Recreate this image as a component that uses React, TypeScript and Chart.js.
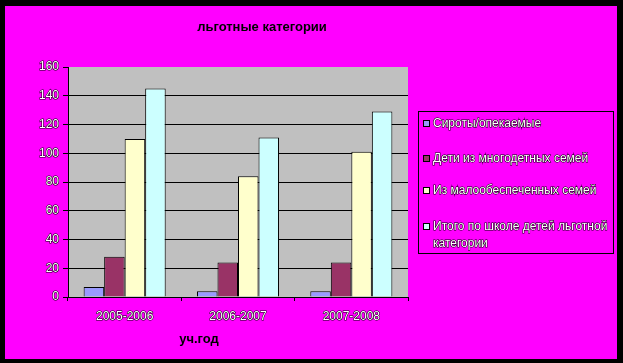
import React, { useEffect, useRef } from "react";
import { Chart, registerables } from "chart.js";

Chart.register(...registerables);

const categories = ["2005-2006", "2006-2007", "2007-2008"];
const seriesNames = [
  "Сироты/опекаемые",
  "Дети из многодетных семей",
  "Из малообеспеченных семей",
  "Итого по школе детей льготной категории",
];
const siroty = [7, 4, 4];
const mnogodetnye = [28, 24, 24];
const maloobesp = [110, 84, 101];
const itogo = [145, 111, 129];
const seriesColors = ["#9999FF", "#993366", "#FFFFCC", "#CCFFFF"];
const chartTitle = "льготные категории";
const xTitle = "уч.год";

const FONT = 'Arial, "Liberation Sans", sans-serif';

const decor = {
  id: "decor",
  beforeDraw(chart: any) {
    const { ctx, chartArea } = chart;
    ctx.save();
    ctx.fillStyle = "#000";
    ctx.fillRect(0, 0, chart.width, chart.height);
    ctx.fillStyle = "#FF00FF";
    ctx.fillRect(5, 6, 612, 353);
    ctx.fillStyle = "#C0C0C0";
    ctx.fillRect(chartArea.left, chartArea.top, chartArea.right - chartArea.left, chartArea.bottom - chartArea.top);
    ctx.restore();
  },
  afterDraw(chart: any) {
    const { ctx } = chart;
    ctx.save();
    // title
    ctx.fillStyle = "#000";
    ctx.font = `bold 13px ${FONT}`;
    ctx.textAlign = "center";
    ctx.textBaseline = "middle";
    ctx.fillText(chartTitle, 262, 27);
    ctx.fillText(xTitle, 199, 339);
    // legend
    ctx.strokeStyle = "#000";
    ctx.lineWidth = 1;
    ctx.strokeRect(418.5, 111.5, 195, 142);
    const rows: { y: number; lines: string[] }[] = [
      { y: 124, lines: [seriesNames[0]] },
      { y: 159, lines: [seriesNames[1]] },
      { y: 191, lines: [seriesNames[2]] },
      { y: 227, lines: ["Итого по школе детей льготной", "категории"] },
    ];
    ctx.font = `12px ${FONT}`;
    ctx.textAlign = "left";
    rows.forEach((r, i) => {
      ctx.fillStyle = seriesColors[i];
      ctx.fillRect(423, r.y - 3, 6, 6);
      ctx.strokeStyle = "#000";
      ctx.strokeRect(423.5, r.y - 3.5, 6, 6);
      r.lines.forEach((t, j) => {
        const yy = r.y + j * 17;
        ctx.lineWidth = 1;
        ctx.strokeStyle = "#000";
        ctx.strokeText(t, 433, yy);
        ctx.fillStyle = "#fff";
        ctx.fillText(t, 433, yy);
      });
    });
    ctx.restore();
  },
};

export default function App() {
  const ref = useRef<HTMLCanvasElement>(null);
  useEffect(() => {
    if (!ref.current) return;
    const values = [siroty, mnogodetnye, maloobesp, itogo];
    const chart = new Chart(ref.current, {
      type: "bar",
      data: {
        labels: categories,
        datasets: values.map((v, i) => ({
          label: seriesNames[i],
          data: v,
          backgroundColor: seriesColors[i],
          borderColor: "#000",
          borderWidth: 1,
          categoryPercentage: 0.724,
          barPercentage: 1,
        })),
      },
      options: {
        responsive: false,
        animation: false,
        events: [],
        layout: { padding: { top: 67, right: 215, left: 0, bottom: 0 } },
        plugins: { legend: { display: false }, title: { display: false }, tooltip: { enabled: false } },
        scales: {
          x: {
            afterFit(s: any) {
              s.height = 66;
            },
            grid: {
              offset: true,
              drawOnChartArea: false,
              drawTicks: true,
              tickLength: 4,
              tickColor: "#000",
              color: "#000",
            },
            border: { color: "#000", width: 1 },
            ticks: {
              font: { family: FONT, size: 12 },
              color: "#fff",
              textStrokeColor: "#000",
              textStrokeWidth: 1,
              padding: 8,
              maxRotation: 0,
            },
          },
          y: {
            min: 0,
            max: 160,
            afterFit(s: any) {
              s.width = 68;
            },
            grid: {
              color: (c: any) => (c.tick && c.tick.value === 160 ? "rgba(0,0,0,0)" : "#000"),
              tickColor: "#000",
              tickLength: 5,
              lineWidth: 1,
            },
            border: { color: "#000", width: 1 },
            ticks: {
              stepSize: 20,
              font: { family: FONT, size: 12 },
              color: "#fff",
              textStrokeColor: "#000",
              textStrokeWidth: 1,
              padding: 4,
            },
          },
        },
      },
      plugins: [decor],
    } as any);
    return () => chart.destroy();
  }, []);
  return (
    <div style={{ position: "fixed", left: 0, top: 0, width: 623, height: 363 }}>
      <canvas ref={ref} width={623} height={363} style={{ display: "block" }} />
    </div>
  );
}
